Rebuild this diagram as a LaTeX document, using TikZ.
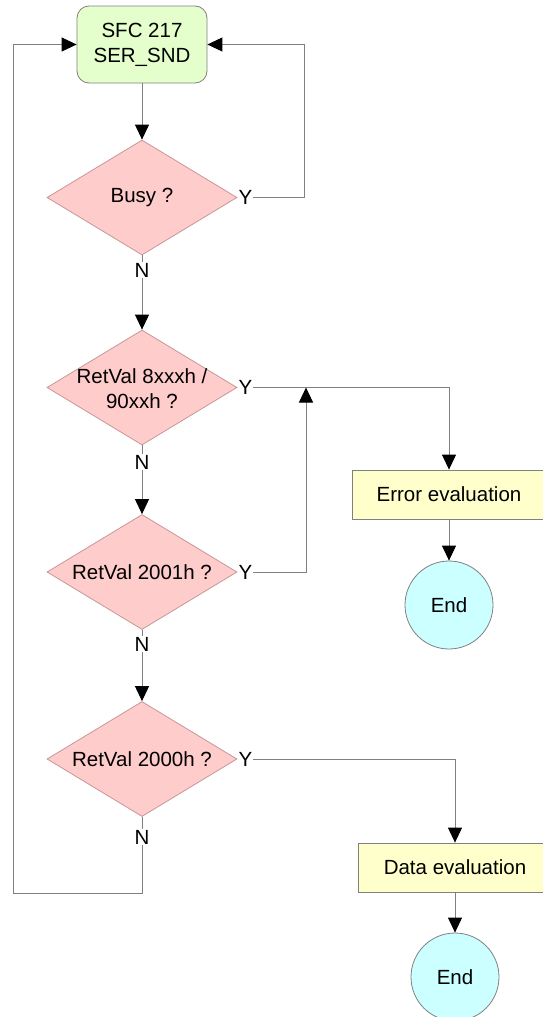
\documentclass[tikz,border=0pt]{standalone}
\usepackage{fontspec}
\setmainfont{Liberation Sans}
\usetikzlibrary{shapes.geometric,arrows.meta}
\definecolor{lgreen}{RGB}{228,255,204}
\definecolor{pinkf}{RGB}{255,204,204}
\definecolor{pinkd}{RGB}{200,150,150}
\definecolor{yell}{RGB}{255,255,204}
\definecolor{cyanf}{RGB}{204,255,255}
\definecolor{linec}{RGB}{128,128,128}
\begin{document}
\begin{tikzpicture}[x=1pt,y=-1pt,
  every node/.style={font=\fontsize{20.5}{25}\selectfont},
  startbox/.style={draw=linec, fill=lgreen, rounded corners=12pt, minimum width=130pt, minimum height=77pt, align=center, line width=0.8pt},
  dec/.style={draw=pinkd, fill=pinkf, diamond, minimum width=190pt, minimum height=115pt, inner sep=0pt, line width=0.8pt},
  dtext/.style={align=center, inner sep=0pt},
  procbox/.style={draw=linec, fill=yell, minimum width=194pt, minimum height=49pt, line width=0.8pt},
  endc/.style={draw=linec, fill=cyanf, circle, minimum size=88pt, inner sep=0pt, line width=0.8pt},
  lab/.style={inner sep=1pt},
  conn/.style={draw=linec, line width=1pt},
  arr/.style={conn, -{Triangle[length=15pt,width=14pt,color=black]}},
]
\useasboundingbox (0,0) rectangle (542,1017);
% nodes
\node[startbox] (start) at (142,44.5) {SFC 217\\SER\_SND};
\node[dec] (busy) at (142,197.5) {};
\node[dtext] (busyt) at (busy) {Busy ?};
\node[dec] (d2) at (142,387.5) {};
\node[dtext] (d2t) at (142,389) {RetVal 8xxxh /\\90xxh ?};
\node[dec] (d3) at (142,572) {};
\node[dtext] (d3t) at (d3) {RetVal 2001h ?};
\node[dec] (d4) at (142,759) {};
\node[dtext] (d4t) at (d4) {RetVal 2000h ?};
\node[procbox] (err) at (449,494.5) {Error evaluation};
\node[endc] (end1) at (449,605) {End};
\node[procbox] (data) at (455,867.5) {Data evaluation};
\node[endc] (end2) at (455,977) {End};
% labels
\node[lab, anchor=west] (y1) at (busy.east) {Y};
\node[lab, anchor=west] (y2) at (d2.east) {Y};
\node[lab, anchor=west] (y3) at (d3.east) {Y};
\node[lab, anchor=west] (y4) at (d4.east) {Y};
\node[lab] (n1) at (142,270) {N};
\node[lab] (n2) at (142,462) {N};
\node[lab] (n3) at (142,644) {N};
\node[lab] (n4) at (142,837) {N};
% helper coordinates
\coordinate (rl) at (304,197.5);
\coordinate (jn) at (306,387.5);
\coordinate (bl) at (13,893);
% connectors
\draw[arr] (start.south) -- (busy.north);
\draw[arr] (y1.east) -- (y1.east -| rl) |- (start.east);
\draw[conn] (busy.south) -- (n1.north);
\draw[arr] (n1.south) -- (d2.north);
\draw[arr] (y2.east) -| (err.north);
\draw[arr] (y3.east) -- (y3.east -| jn) -- (jn);
\draw[conn] (d2.south) -- (n2.north);
\draw[arr] (n2.south) -- (d3.north);
\draw[arr] (err.south) -- (end1.north);
\draw[conn] (d3.south) -- (n3.north);
\draw[arr] (n3.south) -- (d4.north);
\draw[arr] (y4.east) -| (data.north);
\draw[arr] (data.south) -- (end2.north);
\draw[conn] (d4.south) -- (n4.north);
\draw[arr] (n4.south) |- (bl) |- (start.west);
\end{tikzpicture}
\end{document}
